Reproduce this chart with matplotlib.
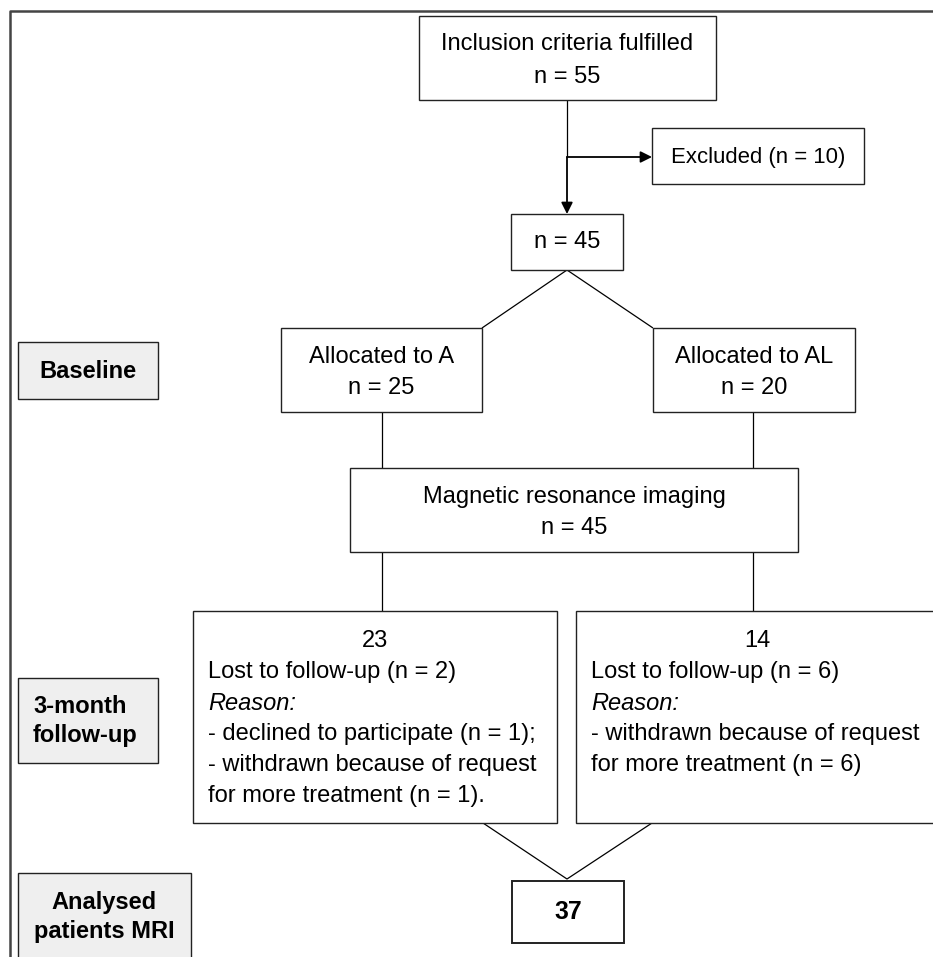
import matplotlib.pyplot as plt
from matplotlib.patches import Rectangle

plt.rcParams['font.family'] = ['Liberation Sans', 'DejaVu Sans']

# flow values
n_included = 55
n_excluded = 10
n_randomised = 45
group_names = ["A", "AL"]
group_n = [25, 20]
n_mri = 45
followup_n = [23, 14]
lost_n = [2, 6]
reasons = [
    ["- declined to participate (n = 1);",
     "- withdrawn because of request",
     "for more treatment (n = 1)."],
    ["- withdrawn because of request",
     "for more treatment (n = 6)"],
]
n_analysed = 37
stage_labels = ["Baseline", "3-month\nfollow-up", "Analysed\npatients MRI"]

FS = 17
W, H = 933, 957

fig = plt.figure(figsize=(W / 100, H / 100), dpi=100)
ax = fig.add_axes([0, 0, 1, 1])
ax.set_xlim(0, W)
ax.set_ylim(H, 0)
ax.axis('off')


def box(x0, y0, x1, y1, fc='white', lw=1.0):
    ax.add_patch(Rectangle((x0, y0), x1 - x0, y1 - y0, fc=fc, ec='#222222', lw=lw, zorder=2))


def line(xs, ys):
    ax.plot(xs, ys, color='black', lw=0.9, zorder=1, solid_capstyle='butt')


def arrow(x0, y0, x1, y1):
    ax.annotate('', xy=(x1, y1), xytext=(x0, y0),
                arrowprops=dict(arrowstyle='-|>', color='black', lw=1.3,
                                mutation_scale=17, shrinkA=0, shrinkB=0), zorder=3)


# outer frame
ax.plot([10, 10, W + 5], [H + 5, 11, 11], color='#444444', lw=1.8, zorder=1)

# top
box(419, 16, 716, 100)
ax.text(567, 44, "Inclusion criteria fulfilled", ha='center', va='center', fontsize=FS)
ax.text(567, 77, f"n = {n_included}", ha='center', va='center', fontsize=FS)

line([567, 567], [100, 157])
arrow(567, 157, 567, 214)
arrow(567, 157, 652, 157)

box(652, 128, 864, 184)
ax.text(758, 157, f"Excluded (n = {n_excluded})", ha='center', va='center', fontsize=FS * 0.94)

box(511, 214, 623, 270)
ax.text(567, 242, f"n = {n_randomised}", ha='center', va='center', fontsize=FS)

# allocation
line([482, 567, 653], [328, 270, 328])
alloc_x = [(281, 482), (653, 855)]
centers = [382, 753]
for (x0, x1), cx, name, n in zip(alloc_x, centers, group_names, group_n):
    box(x0, 328, x1, 412)
    ax.text((x0 + x1) / 2, 357, f"Allocated to {name}", ha='center', va='center', fontsize=FS)
    ax.text((x0 + x1) / 2, 388, f"n = {n}", ha='center', va='center', fontsize=FS)
    line([cx, cx], [412, 468])
    line([cx, cx], [552, 611])

box(350, 468, 798, 552)
ax.text(574, 497, "Magnetic resonance imaging", ha='center', va='center', fontsize=FS)
ax.text(574, 528, f"n = {n_mri}", ha='center', va='center', fontsize=FS)

# follow-up
fu_x = [(193, 557), (576, W + 20)]
fu_tx = [208, 591]
fu_cx = [375, 757]
for (x0, x1), tx, cx, n, lost, rs in zip(fu_x, fu_tx, fu_cx, followup_n, lost_n, reasons):
    box(x0, 611, x1, 823)
    ax.text(cx, 641, str(n), ha='center', va='center', fontsize=FS)
    ax.text(tx, 672, f"Lost to follow-up (n = {lost})", ha='left', va='center', fontsize=FS)
    ax.text(tx, 703, "Reason:", ha='left', va='center', fontsize=FS, style='italic')
    for i, r in enumerate(rs):
        ax.text(tx, 734 + 31 * i, r, ha='left', va='center', fontsize=FS)

line([483, 567, 652], [823, 879, 823])
box(512, 881, 624, 943, lw=1.4)
ax.text(568, 912, str(n_analysed), ha='center', va='center', fontsize=FS * 1.05, fontweight='bold')

# stage labels
gray = '#efefef'
box(18, 342, 158, 399, fc=gray)
ax.text(88, 371, stage_labels[0], ha='center', va='center', fontsize=FS, fontweight='bold')
box(18, 678, 158, 763, fc=gray)
ax.text(33, 721, stage_labels[1], ha='left', va='center', fontsize=FS,
        fontweight='bold', linespacing=1.3)
box(18, 873, 191, H + 10, fc=gray)
ax.text(104, 917, stage_labels[2], ha='center', va='center', fontsize=FS,
        fontweight='bold', linespacing=1.3)

fig.savefig('out.png', dpi=100)
